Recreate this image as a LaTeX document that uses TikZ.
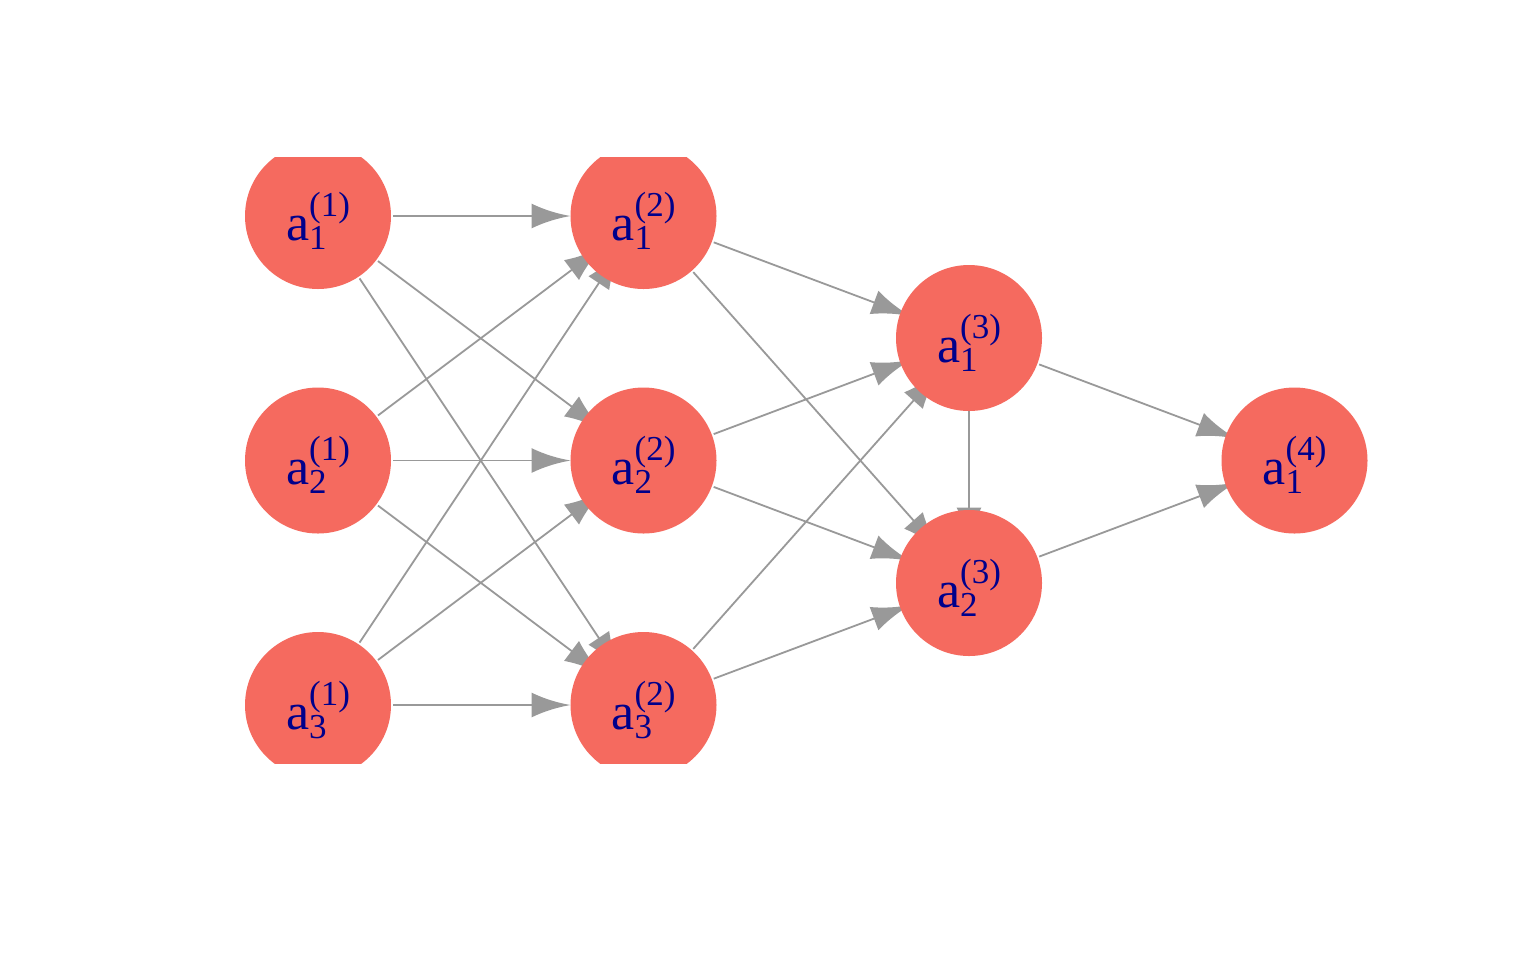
\documentclass[tikz,border=0pt]{standalone}
\usepackage{fontspec}
\setmainfont{Liberation Serif}
\usetikzlibrary{arrows.meta}
\definecolor{nodefill}{RGB}{245,106,95}
\definecolor{edgegray}{RGB}{153,153,153}
\definecolor{labelblue}{RGB}{0,0,139}
\pgfdeclarearrow{
  name = IG,
  parameters = {},
  setup code = {
    \pgfarrowssettipend{0pt}
    \pgfarrowssetlineend{-12pt}
    \pgfarrowssetvisualbackend{-19.5pt}
    \pgfarrowssetbackend{-19.5pt}
    \pgfarrowshullpoint{0pt}{0pt}
    \pgfarrowsupperhullpoint{-19.5pt}{6pt}
  },
  drawing code = {
    \pgfpathmoveto{\pgfqpoint{0pt}{0pt}}
    \pgfpathcurveto{\pgfqpoint{-6pt}{1pt}}{\pgfqpoint{-13pt}{3pt}}{\pgfqpoint{-19.5pt}{6.2pt}}
    \pgfpathlineto{\pgfqpoint{-19.5pt}{-6.2pt}}
    \pgfpathcurveto{\pgfqpoint{-13pt}{-3pt}}{\pgfqpoint{-6pt}{-1pt}}{\pgfqpoint{0pt}{0pt}}
    \pgfpathclose
    \pgfusepathqfill
  }
}
\newcommand{\neur}[2]{\raisebox{0pt}[24pt][0pt]{\fontsize{26pt}{28pt}\selectfont a\rlap{\raisebox{-4.5pt}{\fontsize{17.5pt}{19pt}\selectfont #1}}\raisebox{12pt}{\fontsize{17.5pt}{19pt}\selectfont (#2)}}}
\tikzset{
  neuron/.style={circle, fill=nodefill, draw=none, minimum size=73pt, inner sep=0pt, outer sep=0pt, text=labelblue},
  edge/.style={draw=edgegray, line width=0.9pt, -{IG[fill=edgegray]}, shorten <=37.5pt},
}
\begin{document}
\begin{tikzpicture}[x=0.5pt, y=-0.5pt]
\useasboundingbox (0,0) rectangle (1536,960);
\fill[white] (0,0) rectangle (1536,960);
\begin{scope}
\clip (0,157) rectangle (1536,763);
% node positions
\coordinate (pA1) at (318,216);
\coordinate (pA2) at (318,460.5);
\coordinate (pA3) at (318,705);
\coordinate (pB1) at (643.5,216);
\coordinate (pB2) at (643.5,460.5);
\coordinate (pB3) at (643.5,705);
\coordinate (pC1) at (969,338);
\coordinate (pC2) at (969,583);
\coordinate (pD1) at (1294.5,460.5);
% edges (drawn beneath the nodes)
\draw[edge, shorten >=36.5pt] (pA1) -- (pB1);
\draw[edge, shorten >=25.5pt] (pA1) -- (pB2);
\draw[edge, shorten >=20.8pt] (pA1) -- (pB3);
\draw[edge, shorten >=25.5pt] (pA2) -- (pB1);
\draw[edge, shorten >=36.5pt] (pA2) -- (pB2);
\draw[edge, shorten >=25.5pt] (pA2) -- (pB3);
\draw[edge, shorten >=20.8pt] (pA3) -- (pB1);
\draw[edge, shorten >=25.5pt] (pA3) -- (pB2);
\draw[edge, shorten >=36.5pt] (pA3) -- (pB3);
\draw[edge, shorten >=31.2pt] (pB1) -- (pC1);
\draw[edge, shorten >=22.3pt] (pB1) -- (pC2);
\draw[edge, shorten >=31.2pt] (pB2) -- (pC1);
\draw[edge, shorten >=31.2pt] (pB2) -- (pC2);
\draw[edge, shorten >=22.3pt] (pB3) -- (pC1);
\draw[edge, shorten >=31.2pt] (pB3) -- (pC2);
\draw[edge, shorten <=36.5pt, shorten >=18.25pt] (pC1) -- (pC2);
\draw[edge, shorten >=31.2pt] (pC1) -- (pD1);
\draw[edge, shorten >=31.2pt] (pC2) -- (pD1);
% nodes
\node[neuron] (A1) at (pA1) {\neur{1}{1}};
\node[neuron] (A2) at (pA2) {\neur{2}{1}};
\node[neuron] (A3) at (pA3) {\neur{3}{1}};
\node[neuron] (B1) at (pB1) {\neur{1}{2}};
\node[neuron] (B2) at (pB2) {\neur{2}{2}};
\node[neuron] (B3) at (pB3) {\neur{3}{2}};
\node[neuron] (C1) at (pC1) {\neur{1}{3}};
\node[neuron] (C2) at (pC2) {\neur{2}{3}};
\node[neuron] (D1) at (pD1) {\neur{1}{4}};
\end{scope}
\end{tikzpicture}
\end{document}
